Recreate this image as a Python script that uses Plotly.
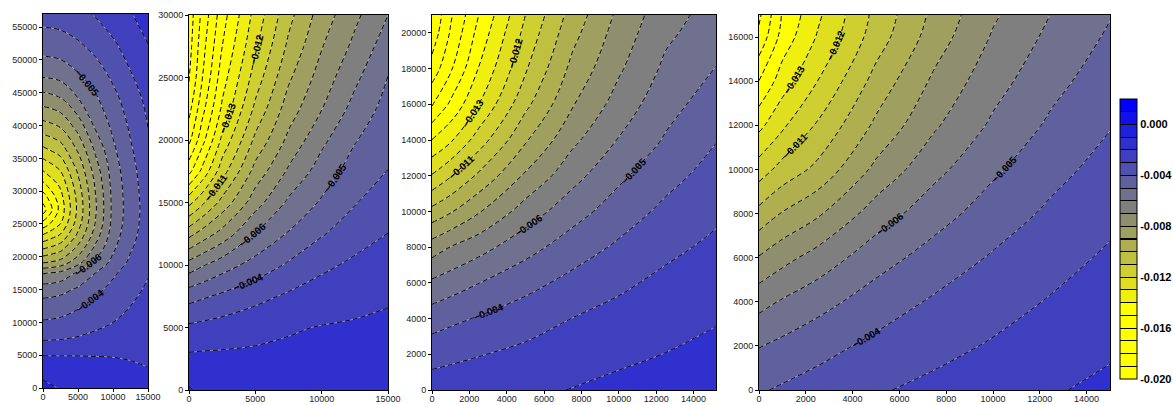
import plotly.graph_objects as go

# ---------------- data ----------------
# Panel 1
p1_x = [0, 2500, 5000, 7500, 10000, 12500, 15000]
p1_y = [0, 2500, 5000, 7500, 10000, 12500, 15000, 17500, 19200, 21100, 23100, 25100, 27100,
        29100, 31100, 33200, 36300, 39500, 44000, 48000, 52000, 57000]
p1_z = [
    [-0.00080, -0.00105, -0.00120, -0.00130, -0.00140, -0.00150, -0.00160],
    [-0.00120, -0.00130, -0.00140, -0.00150, -0.00160, -0.00180, -0.00195],
    [-0.00203, -0.00203, -0.00203, -0.00204, -0.00206, -0.00210, -0.00214],
    [-0.00310, -0.00305, -0.00290, -0.00270, -0.00255, -0.00240, -0.00230],
    [-0.00390, -0.00380, -0.00360, -0.00330, -0.00300, -0.00280, -0.00250],
    [-0.00460, -0.00445, -0.00410, -0.00370, -0.00330, -0.00300, -0.00270],
    [-0.00545, -0.00529, -0.00485, -0.00429, -0.00364, -0.00320, -0.00290],
    [-0.00708, -0.00672, -0.00583, -0.00499, -0.00420, -0.00341, -0.00305],
    [-0.00917, -0.00869, -0.00741, -0.00580, -0.00474, -0.00381, -0.00330],
    [-0.01091, -0.01023, -0.00860, -0.00664, -0.00512, -0.00407, -0.00340],
    [-0.01273, -0.01177, -0.00970, -0.00743, -0.00546, -0.00429, -0.00350],
    [-0.01470, -0.01302, -0.01047, -0.00794, -0.00568, -0.00443, -0.00355],
    [-0.01650, -0.01361, -0.01075, -0.00812, -0.00575, -0.00448, -0.00360],
    [-0.01550, -0.01337, -0.01064, -0.00805, -0.00573, -0.00446, -0.00355],
    [-0.01420, -0.01275, -0.01031, -0.00784, -0.00564, -0.00440, -0.00350],
    [-0.01295, -0.01195, -0.00982, -0.00751, -0.00550, -0.00431, -0.00342],
    [-0.01125, -0.01053, -0.00887, -0.00681, -0.00519, -0.00412, -0.00325],
    [-0.00958, -0.00908, -0.00774, -0.00595, -0.00483, -0.00388, -0.00301],
    [-0.00750, -0.00711, -0.00605, -0.00516, -0.00431, -0.00350, -0.00274],
    [-0.00568, -0.00551, -0.00502, -0.00443, -0.00375, -0.00304, -0.00241],
    [-0.00463, -0.00452, -0.00419, -0.00373, -0.00318, -0.00262, -0.00204],
    [-0.00358, -0.00350, -0.00326, -0.00291, -0.00252, -0.00205, -0.00162],
]

# Panel 2
p2_x = [0, 1000, 2500, 5000, 7500, 10000, 12500, 15000]
p2_y = [0, 2500, 5000, 7500, 10000, 12500, 15000, 17500, 20000, 22500, 25000, 27500, 30000]
p2_z = [
    [-0.00090, -0.00120, -0.00130, -0.00140, -0.00150, -0.00150, -0.00140, -0.00130],
    [-0.00179, -0.00177, -0.00177, -0.00177, -0.00177, -0.00173, -0.00165, -0.00155],
    [-0.00281, -0.00271, -0.00257, -0.00232, -0.00209, -0.00196, -0.00189, -0.00181],
    [-0.00438, -0.00414, -0.00381, -0.00330, -0.00285, -0.00253, -0.00229, -0.00211],
    [-0.00659, -0.00610, -0.00546, -0.00461, -0.00387, -0.00321, -0.00281, -0.00255],
    [-0.00934, -0.00859, -0.00763, -0.00595, -0.00492, -0.00409, -0.00342, -0.00299],
    [-0.01230, -0.01121, -0.00966, -0.00742, -0.00582, -0.00488, -0.00406, -0.00348],
    [-0.01530, -0.01374, -0.01143, -0.00863, -0.00685, -0.00554, -0.00456, -0.00398],
    [-0.01725, -0.01535, -0.01276, -0.00977, -0.00776, -0.00623, -0.00507, -0.00431],
    [-0.01833, -0.01633, -0.01382, -0.01077, -0.00850, -0.00703, -0.00565, -0.00464],
    [-0.01910, -0.01703, -0.01446, -0.01154, -0.00917, -0.00755, -0.00622, -0.00497],
    [-0.01940, -0.01738, -0.01501, -0.01216, -0.00980, -0.00806, -0.00676, -0.00548],
    [-0.01960, -0.01773, -0.01544, -0.01264, -0.01031, -0.00853, -0.00723, -0.00600],
]

# Panel 3
p3_x = [0, 1000, 2500, 5000, 7500, 10000, 12500, 15200]
p3_y = [0, 2000, 4000, 6000, 8000, 10000, 12000, 14000, 16000, 18000, 20000, 21000]
p3_z = [
    [-0.00245, -0.00239, -0.00230, -0.00214, -0.00198, -0.00170, -0.00150, -0.00135],
    [-0.00340, -0.00325, -0.00305, -0.00275, -0.00249, -0.00224, -0.00198, -0.00172],
    [-0.00446, -0.00422, -0.00392, -0.00346, -0.00299, -0.00268, -0.00238, -0.00208],
    [-0.00581, -0.00549, -0.00502, -0.00432, -0.00371, -0.00318, -0.00277, -0.00244],
    [-0.00751, -0.00697, -0.00637, -0.00537, -0.00451, -0.00384, -0.00323, -0.00280],
    [-0.00968, -0.00909, -0.00809, -0.00654, -0.00541, -0.00451, -0.00377, -0.00319],
    [-0.01192, -0.01107, -0.00982, -0.00785, -0.00635, -0.00520, -0.00433, -0.00361],
    [-0.01397, -0.01314, -0.01151, -0.00912, -0.00724, -0.00594, -0.00490, -0.00404],
    [-0.01610, -0.01481, -0.01300, -0.01026, -0.00809, -0.00658, -0.00536, -0.00450],
    [-0.01760, -0.01614, -0.01396, -0.01112, -0.00874, -0.00714, -0.00580, -0.00497],
    [-0.01860, -0.01689, -0.01466, -0.01171, -0.00933, -0.00756, -0.00620, -0.00544],
    [-0.01890, -0.01713, -0.01500, -0.01200, -0.00961, -0.00777, -0.00638, -0.00560],
]

# Panel 4
p4_x = [0, 1000, 2500, 5000, 7500, 10000, 12500, 15000]
p4_y = [0, 2000, 4000, 6000, 8000, 10000, 12000, 14000, 16000, 17000]
p4_z = [
    [-0.00410, -0.00387, -0.00358, -0.00310, -0.00274, -0.00241, -0.00208, -0.00180],
    [-0.00505, -0.00476, -0.00435, -0.00376, -0.00331, -0.00290, -0.00250, -0.00214],
    [-0.00634, -0.00590, -0.00536, -0.00452, -0.00387, -0.00340, -0.00292, -0.00249],
    [-0.00793, -0.00733, -0.00661, -0.00542, -0.00459, -0.00390, -0.00336, -0.00285],
    [-0.00967, -0.00893, -0.00815, -0.00653, -0.00541, -0.00452, -0.00381, -0.00324],
    [-0.01151, -0.01063, -0.00975, -0.00775, -0.00628, -0.00517, -0.00430, -0.00364],
    [-0.01327, -0.01218, -0.01088, -0.00880, -0.00713, -0.00583, -0.00482, -0.00405],
    [-0.01498, -0.01348, -0.01200, -0.00964, -0.00780, -0.00638, -0.00530, -0.00446],
    [-0.01675, -0.01460, -0.01291, -0.01050, -0.00850, -0.00690, -0.00575, -0.00486],
    [-0.01720, -0.01490, -0.01320, -0.01071, -0.00873, -0.00714, -0.00597, -0.00505],
]

x_ranges = [[0, 15000], [0, 15000], [0, 15200], [0, 15000]]
y_ranges = [[0, 57000], [0, 30000], [0, 21000], [0, 17000]]
x_ticks = [list(range(0, 15001, 5000)), list(range(0, 15001, 5000)),
           list(range(0, 14001, 2000)), list(range(0, 14001, 2000))]
y_ticks = [list(range(0, 55001, 5000)), list(range(0, 30001, 5000)),
           list(range(0, 20001, 2000)), list(range(0, 16001, 2000))]
cbar_ticks = [0.0, -0.004, -0.008, -0.012, -0.016, -0.020]
cbar_text = ['0.000', '-0.004', '-0.008', '-0.012', '-0.016', '-0.020']

# ---------------- styling ----------------
W, H = 1173, 405
# pixel boxes of the plot areas: (left, right, top, bottom)
boxes = [(43, 148, 14, 388), (189, 388, 15, 390), (432, 716, 15, 390), (759, 1110, 15, 390)]

LEV = dict(start=-0.019, end=0.001, size=0.001)
cscale = [[0.0, 'rgb(255,255,0)'], [0.238, 'rgb(255,255,0)'], [1.0, 'rgb(0,0,255)']]
font_fam = 'Liberation Sans, Arial, sans-serif'


def band_rgb(c):
    # same mapping plotly uses for the filled bands (lowest band -> 0, highest -> 1)
    t = (c + 0.0195) / 0.021
    s = 0.0 if t <= 0.238 else (t - 0.238) / 0.762
    s = min(max(s, 0.0), 1.0)
    v = round(255 * (1 - s))
    return 'rgb(%d,%d,%d)' % (v, v, round(255 * s))


# stepped colour bar with thin black separators (22 bands from -0.020 to 0.002)
CB_MIN, CB_MAX, NB = -0.020, 0.002, 22
e = 0.55 / 278
cb_scale = []
for i in range(NB):
    lo, hi = i / NB, (i + 1) / NB
    col = band_rgb(CB_MIN + 0.001 * i + 0.0005)
    if i > 0:
        cb_scale.append([lo - e, 'black'])
        cb_scale.append([lo + e, 'black'])
    cb_scale.append([0.0 if i == 0 else lo + e + 1e-5, col])
    cb_scale.append([1.0 if i == NB - 1 else hi - e - 1e-5, col])

panels = [(p1_x, p1_y, p1_z), (p2_x, p2_y, p2_z), (p3_x, p3_y, p3_z), (p4_x, p4_y, p4_z)]

fig = go.Figure()

# colour-bar carrier: a single cell placed outside the visible axis range
fig.add_trace(go.Heatmap(
    z=[[-0.01]], x=[-1e7], y=[-1e7], xaxis='x4', yaxis='y4',
    zmin=CB_MIN, zmax=CB_MAX, colorscale=cb_scale, showscale=True, hoverinfo='skip',
    colorbar=dict(
        x=1120 / W, xanchor='left', xpad=0, ypad=0,
        y=1 - 239 / H, yanchor='middle', len=280 / H, lenmode='fraction',
        thickness=17, outlinecolor='black', outlinewidth=1,
        tickvals=cbar_ticks, ticktext=cbar_text, ticks='',
        tickfont=dict(family=font_fam, size=11, color='black', weight='bold'),
    ),
))

for i, (xs, ys, zs) in enumerate(panels):
    ax = '' if i == 0 else str(i + 1)
    xa, ya = 'x' + ax, 'y' + ax
    # filled bands with thin light boundaries
    fig.add_trace(go.Contour(
        x=xs, y=ys, z=zs, xaxis=xa, yaxis=ya,
        contours=dict(coloring='fill', showlines=True, **LEV),
        line=dict(color='rgba(235,235,235,0.8)', width=0.6, smoothing=1.0),
        colorscale=cscale, showscale=False, hoverinfo='skip',
    ))
    # dashed black contour lines
    fig.add_trace(go.Contour(
        x=xs, y=ys, z=zs, xaxis=xa, yaxis=ya,
        contours=dict(coloring='none', showlines=True, **LEV),
        line=dict(color='black', width=1, dash='5px,3px', smoothing=1.0),
        showscale=False, hoverinfo='skip',
    ))
    # labelled levels
    label_sets = [(-0.006, -0.004)]
    if i > 0:
        label_sets.append((-0.013, -0.011))
    for a, b in label_sets:
        fig.add_trace(go.Contour(
            x=xs, y=ys, z=zs, xaxis=xa, yaxis=ya,
            contours=dict(coloring='none', showlines=False, showlabels=True,
                          start=a, end=b, size=0.001,
                          labelfont=dict(family=font_fam, size=10, color='black', weight='bold'),
                          labelformat='.3f'),
            line=dict(width=0, smoothing=1.0),
            showscale=False, hoverinfo='skip',
        ))

layout = dict(width=W, height=H, margin=dict(l=0, r=0, t=0, b=0, autoexpand=False),
              paper_bgcolor='white', plot_bgcolor='white', showlegend=False)
for i, (l, r, t, b) in enumerate(boxes):
    ax = '' if i == 0 else str(i + 1)
    common = dict(showline=True, linecolor='black', linewidth=1, mirror=True,
                  ticks='outside', ticklen=3, tickcolor='black', showgrid=False,
                  zeroline=False, tickformat='d',
                  tickfont=dict(family=font_fam, size=9, color='#222'))
    layout['xaxis' + ax] = dict(domain=[l / W, r / W], range=x_ranges[i], tickvals=x_ticks[i],
                                anchor='y' + ax, ticklabelstandoff=-3, **common)
    layout['yaxis' + ax] = dict(domain=[1 - b / H, 1 - t / H], range=y_ranges[i], tickvals=y_ticks[i],
                                anchor='x' + ax, **common)
fig.update_layout(**layout)

fig.write_html('out.html', config={'displayModeBar': False},
               post_script="document.body.style.margin='0';document.body.style.overflow='hidden';")
